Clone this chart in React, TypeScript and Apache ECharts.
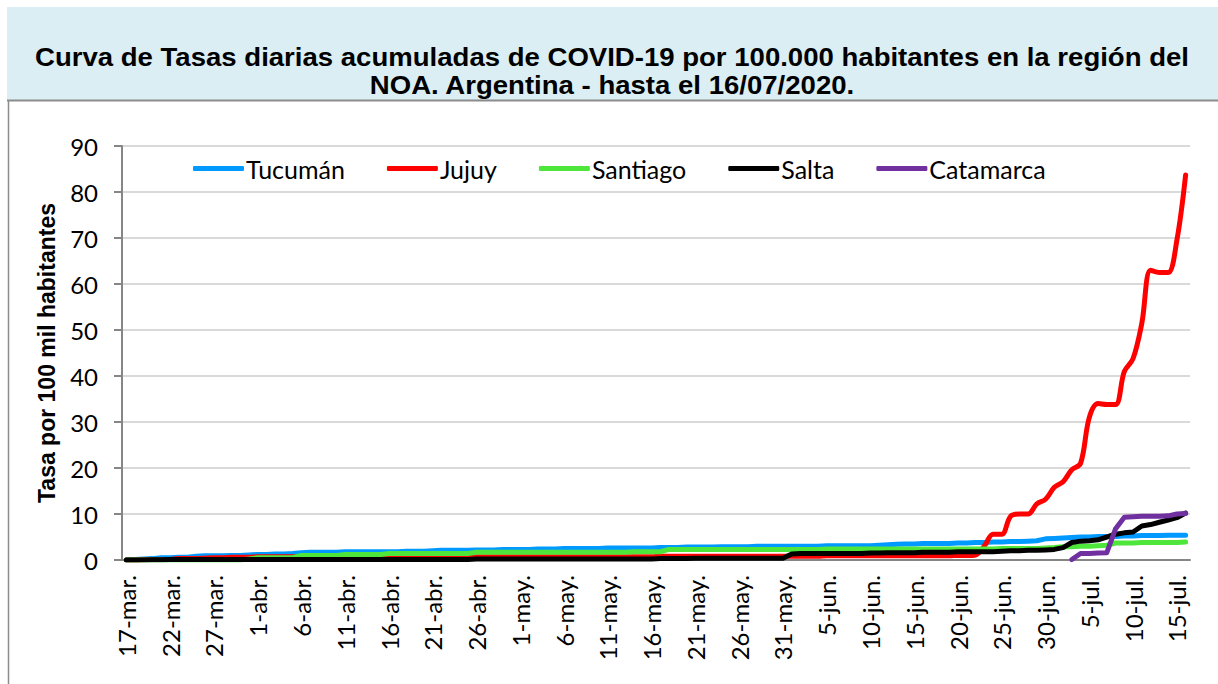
import React, { useEffect, useRef } from "react";
import * as echarts from "echarts";

const monthNames = ["mar.", "abr.", "may.", "jun.", "jul."];
const monthDays = [31, 30, 31, 30, 31];
const firstDay = 17;
const dayCount = 122;

function buildCategories(): string[] {
  const out: string[] = [];
  let m = 0;
  let d = firstDay;
  for (let i = 0; i < dayCount; i++) {
    out.push(`${d}-${monthNames[m]}`);
    d++;
    if (d > monthDays[m]) {
      d = 1;
      m++;
    }
  }
  return out;
}
const categories = buildCategories();

const titleLines = [
  "Curva de Tasas diarias acumuladas de COVID-19 por 100.000 habitantes en la región del",
  "NOA. Argentina - hasta el 16/07/2020.",
];

const yTicks = [0, 10, 20, 30, 40, 50, 60, 70, 80, 90];

const tucuman = [
  0.05, 0.1, 0.2, 0.3, 0.5, 0.5, 0.6, 0.6, 0.8, 0.9, 0.9, 0.9, 1.0, 1.0, 1.1,
  1.2, 1.2, 1.3, 1.3, 1.4, 1.6, 1.7, 1.7, 1.7, 1.7, 1.8, 1.8, 1.8, 1.8, 1.8,
  1.8, 1.8, 1.9, 1.9, 1.9, 2.0, 2.1, 2.1, 2.1, 2.1, 2.2, 2.2, 2.2, 2.3, 2.3,
  2.3, 2.3, 2.4, 2.4, 2.4, 2.5, 2.5, 2.5, 2.5, 2.5, 2.6, 2.6, 2.6, 2.6, 2.6,
  2.6, 2.7, 2.7, 2.7, 2.8, 2.8, 2.8, 2.8, 2.9, 2.9, 2.9, 2.9, 3.0, 3.0, 3.0,
  3.0, 3.0, 3.0, 3.0, 3.0, 3.1, 3.1, 3.1, 3.1, 3.1, 3.1, 3.2, 3.3, 3.4, 3.5,
  3.5, 3.6, 3.6, 3.6, 3.6, 3.7, 3.7, 3.8, 3.8, 3.9, 3.9, 4.0, 4.0, 4.1, 4.2,
  4.6, 4.7, 4.8, 4.9, 5.0, 5.0, 5.1, 5.1, 5.1, 5.2, 5.2, 5.3, 5.3, 5.3, 5.4,
  5.4, 5.4,
];

const jujuy = [
  0, 0, 0.1, 0.1, 0.1, 0.1, 0.3, 0.3, 0.3, 0.4, 0.5, 0.5, 0.6, 0.6, 0.6,
  0.7, 0.7, 0.7, 0.7, 0.7, 0.7, 0.7, 0.7, 0.7, 0.7, 0.7, 0.7, 0.7, 0.7, 0.7,
  0.7, 0.7, 0.7, 0.7, 0.7, 0.7, 0.7, 0.7, 0.7, 0.7, 0.7, 0.7, 0.7, 0.7, 0.7,
  0.7, 0.7, 0.7, 0.7, 0.7, 0.7, 0.7, 0.7, 0.7, 0.7, 0.7, 0.7, 0.7, 0.7, 0.7,
  0.7, 0.8, 0.8, 0.8, 0.8, 0.8, 0.8, 0.8, 0.8, 0.8, 0.8, 0.8, 0.8, 0.8, 0.8,
  0.8, 0.8, 0.8, 0.8, 0.8, 0.9, 0.9, 0.9, 0.9, 0.9, 0.9, 0.9, 0.9, 0.9, 0.9,
  0.9, 0.9, 0.9, 0.9, 0.9, 1.0, 1.0, 1.1, 3.0, 5.6, 5.6, 9.5, 10.0, 10.0, 12.2,
  13.2, 15.8, 17.0, 19.6, 21.0, 31.0, 34.0, 33.8, 33.8, 41.0, 43.8, 51.5, 63.0,
  62.5, 62.5, 69.5, 83.7,
];

const santiago = [
  0, 0, 0, 0, 0, 0, 0, 0, 0, 0, 0, 0, 0, 0, 0.2,
  0.5, 0.5, 0.5, 0.5, 0.5, 1.0, 1.0, 1.0, 1.0, 1.0, 1.2, 1.2, 1.2, 1.2, 1.2,
  1.4, 1.4, 1.4, 1.4, 1.4, 1.4, 1.4, 1.4, 1.4, 1.4, 1.7, 1.7, 1.7, 1.7, 1.7,
  1.7, 1.7, 1.7, 1.7, 1.7, 1.7, 1.7, 1.7, 1.7, 1.7, 1.7, 1.7, 1.7, 1.8, 1.8,
  1.8, 1.8, 2.3, 2.3, 2.3, 2.3, 2.3, 2.3, 2.3, 2.3, 2.3, 2.3, 2.3, 2.3, 2.3,
  2.3, 2.3, 2.3, 2.3, 2.3, 2.4, 2.4, 2.4, 2.4, 2.4, 2.4, 2.4, 2.4, 2.4, 2.4,
  2.4, 2.4, 2.4, 2.4, 2.4, 2.4, 2.4, 2.4, 2.4, 2.4, 2.5, 2.5, 2.5, 2.5, 2.5,
  2.6, 2.7, 2.9, 2.9, 3.0, 3.0, 3.1, 3.2, 3.7, 3.7, 3.7, 3.8, 3.8, 3.8, 3.8,
  3.8, 3.9,
];

const salta = [
  0, 0, 0, 0.05, 0.05, 0.1, 0.1, 0.1, 0.1, 0.1, 0.1, 0.1, 0.1, 0.1, 0.1,
  0.1, 0.1, 0.1, 0.1, 0.1, 0.1, 0.1, 0.1, 0.1, 0.1, 0.1, 0.1, 0.1, 0.1, 0.1,
  0.1, 0.1, 0.1, 0.1, 0.1, 0.1, 0.1, 0.1, 0.1, 0.1, 0.2, 0.2, 0.2, 0.2, 0.2,
  0.2, 0.2, 0.2, 0.2, 0.2, 0.2, 0.2, 0.2, 0.2, 0.2, 0.2, 0.2, 0.2, 0.2, 0.2,
  0.2, 0.3, 0.3, 0.3, 0.3, 0.4, 0.4, 0.4, 0.4, 0.4, 0.4, 0.4, 0.4, 0.4, 0.4,
  0.4, 1.3, 1.4, 1.4, 1.4, 1.4, 1.4, 1.4, 1.4, 1.4, 1.5, 1.5, 1.6, 1.6, 1.6,
  1.6, 1.7, 1.7, 1.7, 1.7, 1.8, 1.8, 1.8, 1.8, 1.8, 1.9, 2.0, 2.0, 2.1, 2.1,
  2.2, 2.3, 2.7, 3.8, 4.1, 4.2, 4.4, 5.0, 5.6, 5.9, 6.1, 7.4, 7.7, 8.2, 8.7,
  9.2, 10.2,
];

const catamarcaStartIndex = 108;
const catamarcaValues = [0.1, 1.4, 1.4, 1.5, 1.6, 6.8, 9.3, 9.4, 9.5, 9.5, 9.5, 9.6, 10.0, 10.1];

const seriesNames = ["Tucumán", "Jujuy", "Santiago", "Salta", "Catamarca"];
const seriesColors = ["#0099FF", "#FF0000", "#4EE63A", "#000000", "#7030A0"];

export default function App() {
  const ref = useRef<HTMLDivElement>(null);

  useEffect(() => {
    if (!ref.current) return;
    const chart = echarts.init(ref.current, undefined, { renderer: "svg" });

    const catamarca: (number | null)[] = [];
    for (let i = 0; i < catamarcaStartIndex; i++) catamarca.push(null);
    catamarcaValues.forEach((v) => catamarca.push(v));

    const datasets = [tucuman, jujuy, santiago, salta, catamarca];

    const titleFont = "bold 26px 'Liberation Sans', Arial, sans-serif";

    const option: any = {
      animation: false,
      backgroundColor: "#FFFFFF",
      graphic: [
        {
          type: "rect",
          shape: { x: 7, y: 7, width: 1211, height: 93 },
          style: { fill: "#DAEEF3" },
          silent: true,
          z: -10,
        },
        {
          type: "line",
          shape: { x1: 7, y1: 100.5, x2: 1218, y2: 100.5 },
          style: { stroke: "#8C8C8C", lineWidth: 2 },
          silent: true,
        },
        {
          type: "line",
          shape: { x1: 8.5, y1: 100, x2: 8.5, y2: 684 },
          style: { stroke: "#8C8C8C", lineWidth: 1.5 },
          silent: true,
        },
        {
          type: "text",
          x: 612,
          y: 57,
          scaleX: 1.06,
          style: {
            text: titleLines[0],
            font: titleFont,
            fill: "#000000",
            textAlign: "center",
            textVerticalAlign: "middle",
          },
          silent: true,
        },
        {
          type: "text",
          x: 612,
          y: 85,
          scaleX: 1.06,
          style: {
            text: titleLines[1],
            font: titleFont,
            fill: "#000000",
            textAlign: "center",
            textVerticalAlign: "middle",
          },
          silent: true,
        },
      ],
      legend: {
        top: 151,
        left: 188,
        icon: "roundRect",
        itemWidth: 51,
        itemHeight: 5,
        itemGap: 42,
        textStyle: {
          fontFamily: "Lato",
          fontSize: 25,
          color: "#000000",
          padding: [0, 0, 0, -3],
        },
        data: seriesNames,
      },
      grid: { left: 122, right: 28, top: 146, bottom: 124 },
      xAxis: {
        type: "category",
        data: categories,
        boundaryGap: true,
        axisLine: { lineStyle: { color: "#868686", width: 2 } },
        axisTick: { interval: 4, length: 8, lineStyle: { color: "#868686", width: 2 } },
        axisLabel: {
          interval: 4,
          rotate: 90,
          margin: 15,
          fontFamily: "Lato",
          fontSize: 24,
          color: "#000000",
        },
        splitLine: { show: false },
      },
      yAxis: {
        type: "value",
        min: yTicks[0],
        max: yTicks[yTicks.length - 1],
        interval: 10,
        name: "Tasa por 100 mil habitantes",
        nameLocation: "middle",
        nameGap: 64,
        nameTextStyle: {
          fontFamily: "Liberation Sans",
          fontWeight: "bold",
          fontSize: 23,
          color: "#000000",
        },
        axisLine: { show: true, lineStyle: { color: "#868686", width: 2 } },
        axisTick: { show: true, length: 8, lineStyle: { color: "#868686", width: 2 } },
        axisLabel: {
          margin: 24,
          fontFamily: "Lato",
          fontSize: 24,
          color: "#000000",
        },
        splitLine: { lineStyle: { color: "#D9D9D9", width: 2 } },
      },
      series: datasets.map((d, i) => ({
        name: seriesNames[i],
        type: "line",
        data: d,
        showSymbol: false,
        symbol: "none",
        smooth: i === 1 ? 0.35 : false,
        connectNulls: false,
        color: seriesColors[i],
        lineStyle: { color: seriesColors[i], width: 5, cap: "round", join: "round" },
        z: 2 + i,
      })),
    };

    chart.setOption(option);
    return () => chart.dispose();
  }, []);

  return (
    <div
      ref={ref}
      style={{ position: "fixed", left: 0, top: 0, width: 1218, height: 684 }}
    />
  );
}
